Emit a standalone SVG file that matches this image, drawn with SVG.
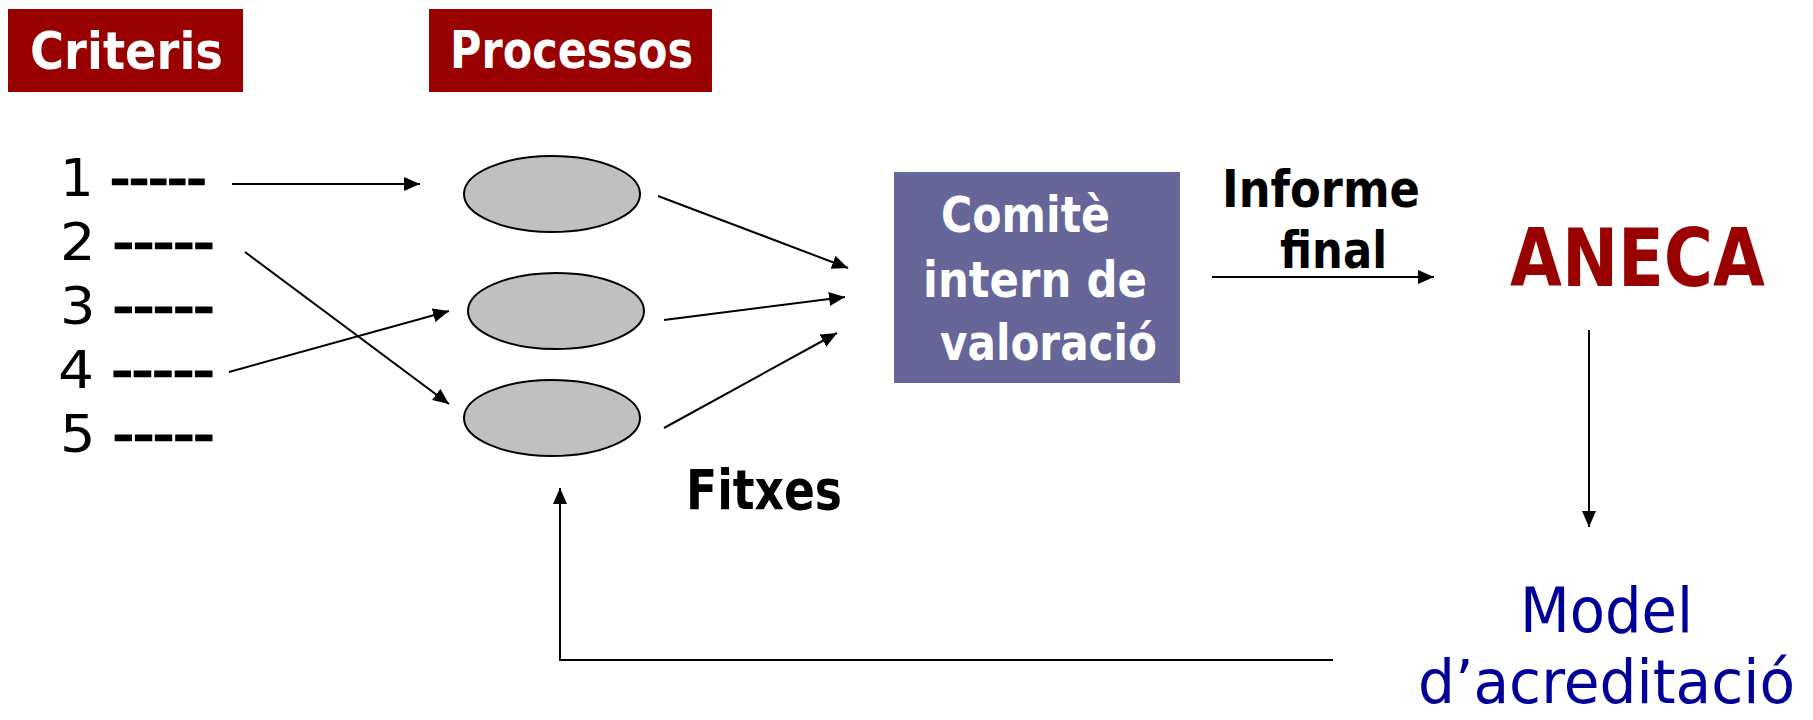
<svg xmlns="http://www.w3.org/2000/svg" width="1813" height="720" viewBox="0 0 1813 720">
<defs>
<marker id="arr" markerUnits="userSpaceOnUse" markerWidth="16" markerHeight="14" refX="16" refY="7" orient="auto">
<path d="M0,0 L16,7 L0,14 z" fill="#000"/>
</marker>
<style>
text{font-family:"DejaVu Sans","Liberation Sans",sans-serif;}
.hdr{fill:#fff;font-weight:bold;font-size:52px;}
.num{fill:#000;font-size:52px;}
.dash{stroke:#000;stroke-width:2.5px;}
.wb{fill:#fff;font-weight:bold;font-size:50px;}
.bk{fill:#000;font-weight:bold;font-size:51px;}
.con{fill:none;stroke:#000;stroke-width:2;marker-end:url(#arr);}
.ell{fill:#C0C0C0;stroke:#000;stroke-width:2;}
</style>
</defs>
<rect width="1813" height="720" fill="#fff"/>
<g id="criteris">
<rect x="8" y="9" width="235" height="83" fill="#990000"/>
<text class="hdr" x="30" y="69" textLength="193" lengthAdjust="spacingAndGlyphs">Criteris</text>
</g>
<g id="processos">
<rect x="429" y="9" width="283" height="83" fill="#990000"/>
<text class="hdr" x="450" y="68" textLength="243" lengthAdjust="spacingAndGlyphs">Processos</text>
</g>
<g id="crit1"><text class="num" x="60" y="196" textLength="146" lengthAdjust="spacingAndGlyphs">1 <tspan class="dash">-----</tspan></text></g>
<g id="crit2"><text class="num" x="60" y="260" textLength="154" lengthAdjust="spacingAndGlyphs">2 <tspan class="dash">-----</tspan></text></g>
<g id="crit3"><text class="num" x="60" y="324" textLength="154" lengthAdjust="spacingAndGlyphs">3 <tspan class="dash">-----</tspan></text></g>
<g id="crit4"><text class="num" x="58" y="388" textLength="156" lengthAdjust="spacingAndGlyphs">4 <tspan class="dash">-----</tspan></text></g>
<g id="crit5"><text class="num" x="60" y="452" textLength="154" lengthAdjust="spacingAndGlyphs">5 <tspan class="dash">-----</tspan></text></g>
<g id="proc1"><ellipse class="ell" cx="552" cy="194" rx="88" ry="38"/></g>
<g id="proc2"><ellipse class="ell" cx="556" cy="311" rx="88" ry="38"/></g>
<g id="proc3"><ellipse class="ell" cx="552" cy="418" rx="88" ry="38"/></g>
<g id="comite">
<rect x="894" y="172" width="286" height="211" fill="#666699"/>
<text class="wb" x="941" y="232" textLength="169" lengthAdjust="spacingAndGlyphs">Comitè</text>
<text class="wb" x="923" y="297" textLength="224" lengthAdjust="spacingAndGlyphs">intern de</text>
<text class="wb" x="940" y="360" textLength="217" lengthAdjust="spacingAndGlyphs">valoració</text>
</g>
<g id="informe">
<text class="bk" x="1222" y="207" textLength="198" lengthAdjust="spacingAndGlyphs">Informe</text>
<text class="bk" x="1280" y="268" textLength="107" lengthAdjust="spacingAndGlyphs">final</text>
</g>
<g id="aneca">
<text x="1510" y="286" fill="#990000" font-weight="bold" font-size="80" textLength="255" lengthAdjust="spacingAndGlyphs">ANECA</text>
</g>
<g id="fitxes">
<text x="686" y="509" fill="#000" font-weight="bold" font-size="55" textLength="156" lengthAdjust="spacingAndGlyphs">Fitxes</text>
</g>
<g id="model">
<text x="1520" y="632" fill="#000099" font-size="62" textLength="173" lengthAdjust="spacingAndGlyphs">Model</text>
<text x="1418" y="703" fill="#000099" font-size="60" textLength="377" lengthAdjust="spacingAndGlyphs">d’acreditació</text>
</g>
<g id="connectors">
<line class="con" x1="232" y1="184" x2="420" y2="184"/>
<line class="con" x1="245" y1="252" x2="449" y2="404"/>
<line class="con" x1="229" y1="372" x2="449" y2="311"/>
<line class="con" x1="658" y1="196" x2="848" y2="268"/>
<line class="con" x1="664" y1="320" x2="845" y2="297"/>
<line class="con" x1="664" y1="428" x2="837" y2="333"/>
<line class="con" x1="1212" y1="277" x2="1434" y2="277"/>
<line class="con" x1="1589" y1="330" x2="1589" y2="527"/>
<polyline class="con" points="1333,660 560,660 560,488"/>
</g>
</svg>
